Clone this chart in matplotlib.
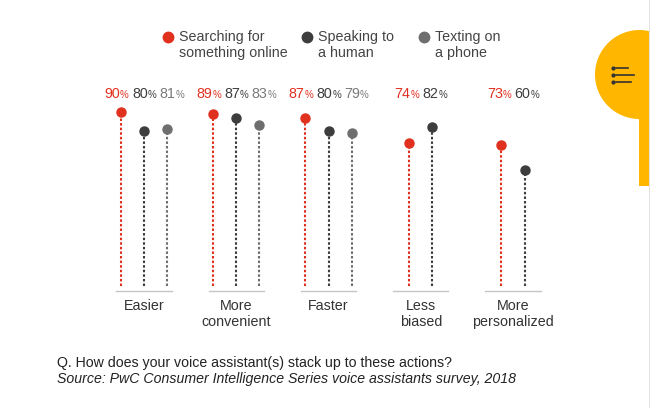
import matplotlib
matplotlib.use("Agg")
import matplotlib.pyplot as plt
from matplotlib.patches import Circle, Rectangle

# --- data ---
categories = ["Easier", "More\nconvenient", "Faster", "Less\nbiased", "More\npersonalized"]
series_names = ["Searching for\nsomething online", "Speaking to\na human", "Texting on\na phone"]
searching = [90, 89, 87, 74, 73]
speaking = [80, 87, 80, 82, 60]
texting = [81, 83, 79, None, None]

dot_colors = ["#e0301e", "#3d3d3d", "#6e6e6e"]
label_colors = ["#e0301e", "#3d3d3d", "#7a7a7a"]

plt.rcParams["font.family"] = ["Liberation Sans", "DejaVu Sans"]

fig = plt.figure(figsize=(6.5, 4.08), dpi=100)
ax = fig.add_axes([0, 0, 1, 1])
ax.set_xlim(-1.561, 5.485)
ax.set_ylim(-63.1, 147.9)
ax.axis("off")

dot_step = 0.25
label_step = 0.30
series = [searching, speaking, texting]
for i, cat in enumerate(categories):
    present = [(j, s[i]) for j, s in enumerate(series) if s[i] is not None]
    n = len(present)
    for k, (j, v) in enumerate(present):
        off = k - (n - 1) / 2
        x = i + off * dot_step
        ax.plot([x, x], [0, v], color=dot_colors[j], lw=1.5,
                linestyle=(0, (1.2, 1)), zorder=2)
        ax.plot(x, v, "o", color=dot_colors[j], ms=6.5, zorder=3)
        lx = i + off * label_step + 0.040
        ax.text(lx, 97, f"{v}", ha="right", va="baseline", fontsize=10.3,
                color=label_colors[j])
        ax.text(lx, 97, "%", ha="left", va="baseline", fontsize=7,
                color=label_colors[j])
    ax.plot([i - 0.30, i + 0.30], [-2.6, -2.6], color="#c6c6c6", lw=1)
    ax.text(i, -6.5, cat, ha="center", va="top", fontsize=10.3,
            color="#333333", linespacing=1.2)

# --- overlay in pixel coords for legend, footer and side tab ---
deco = fig.add_axes([0, 0, 1, 1])
deco.set_xlim(0, 650)
deco.set_ylim(408, 0)
deco.axis("off")
deco.patch.set_alpha(0)

legend_x = [168, 307, 424]
for name, c, lx in zip(series_names, dot_colors, legend_x):
    deco.plot(lx, 37, "o", color=c, ms=7.5)
    deco.text(lx + 11, 45, name, ha="left", va="center", fontsize=10.3,
              color="#444444", linespacing=1.12)

deco.text(57, 363, "Q. How does your voice assistant(s) stack up to these actions?",
          ha="left", va="center", fontsize=10.2, color="#222222")
deco.text(57, 379, "Source: PwC Consumer Intelligence Series voice assistants survey, 2018",
          ha="left", va="center", fontsize=10.2, color="#222222", style="italic")

# side tab
clip = Rectangle((590, 0), 58.5, 408, transform=deco.transData)
tab = Circle((639.5, 74.5), 44.5, color="#ffb600", lw=0)
deco.add_patch(tab)
tab.set_clip_path(clip)
deco.add_patch(Rectangle((639, 74.5), 9.5, 111.5, color="#ffb600", lw=0))
deco.add_patch(Rectangle((648.5, 0), 1.5, 408, color="#e2e2e2", lw=0))
for yy, x1 in zip([68, 75, 82], [628, 634, 631]):
    deco.plot(613, yy, "o", color="#333333", ms=2)
    deco.plot([616, x1], [yy, yy], color="#333333", lw=1.2)

fig.savefig("out.png", dpi=100)
